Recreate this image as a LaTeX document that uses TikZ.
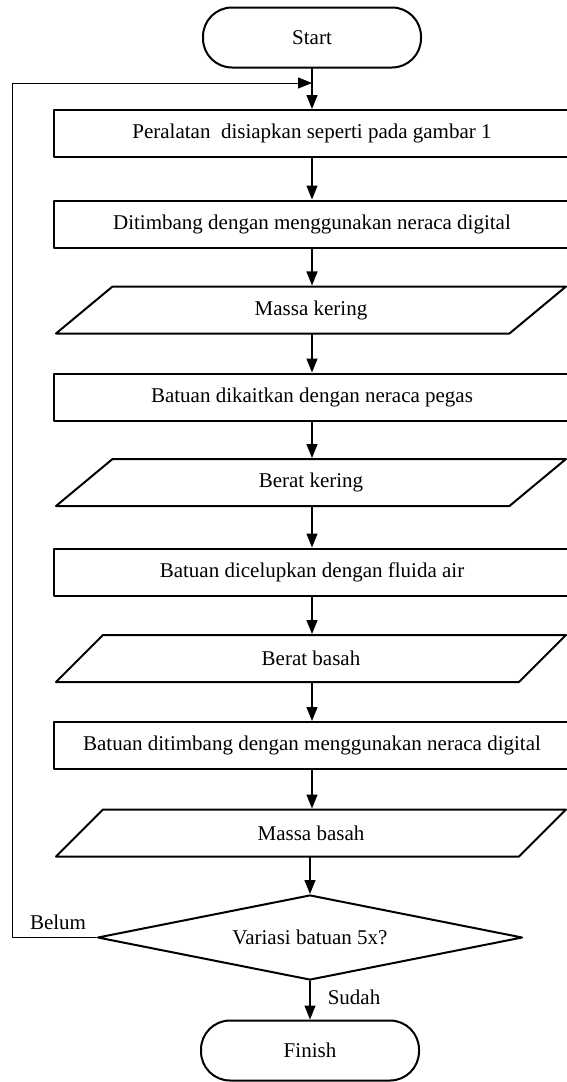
\documentclass[tikz,border=0pt]{standalone}
\usepackage{fontspec}
\setmainfont{Liberation Serif}
\usepackage{tikz}
\usetikzlibrary{shapes.geometric}
\usetikzlibrary{arrows.meta}

\tikzset{
  terminal/.style={draw, line width=2pt, rounded corners=29pt, minimum width=218pt, minimum height=60pt},
  procbox/.style={draw, line width=2pt, minimum width=516pt, minimum height=47pt},
  iobox/.style={draw, line width=2pt, trapezium, trapezium left angle=24.5, trapezium right angle=155.5, trapezium stretches body, minimum width=510pt, minimum height=47pt},
  decision/.style={draw, line width=2pt, diamond, aspect=5, inner sep=0pt, minimum width=425pt, minimum height=85pt},
  flowline/.style={line width=1.2pt, ->},
}

\begin{document}
\begin{tikzpicture}[line cap=round,line join=round,>={Triangle[length=14pt,width=11pt]},x=1pt,y=-1pt,font=\fontsize{21}{25}\selectfont]
\useasboundingbox (0,0) rectangle (566,1082);
\node[terminal] (start) at (312,37.5) {Start};
\coordinate (join) at (312,83);
\node[procbox] (p1) at (312,133.5) {Peralatan\ \ disiapkan seperti pada gambar 1};
\node[procbox] (p2) at (312,224) {Ditimbang dengan menggunakan neraca digital};
\node[iobox] (m1) at (311,310) {Massa kering};
\node[procbox] (p3) at (312,397) {Batuan dikaitkan dengan neraca pegas};
\node[iobox] (m2) at (311,482.5) {Berat kering};
\node[procbox] (p4) at (312,572) {Batuan dicelupkan dengan fluida air};
\node[iobox] (m3) at (311,658.5) {Berat basah};
\node[procbox] (p5) at (312,745.5) {Batuan ditimbang dengan menggunakan neraca digital};
\node[iobox] (m4) at (311,833) {Massa basah};
\node[decision] (cek) at (310,937.5) {Variasi batuan 5x?};
\node[terminal] (finish) at (310,1050.5) {Finish};
% alur utama
\draw[flowline] (start) -- (p1);
\draw[flowline] (p1) -- (p2);
\draw[flowline] (p2) -- (m1.north -| p2);
\draw[flowline] (m1.south -| p2) -- (p3);
\draw[flowline] (p3) -- (m2.north -| p3);
\draw[flowline] (m2.south -| p3) -- (p4);
\draw[flowline] (p4) -- (m3.north -| p4);
\draw[flowline] (m3.south -| p4) -- (p5);
\draw[flowline] (p5) -- (m4.north -| p5);
\draw[flowline] (m4.south -| cek) -- (cek);
\draw[flowline] (cek) -- (finish);
% ulang
\draw[line width=0.9pt,->] (cek.west) -- ++(-84,0) |- (join);
\node (belum) at (58,922) {Belum};
\node (sudah) at (354,997) {Sudah};
\end{tikzpicture}
\end{document}
